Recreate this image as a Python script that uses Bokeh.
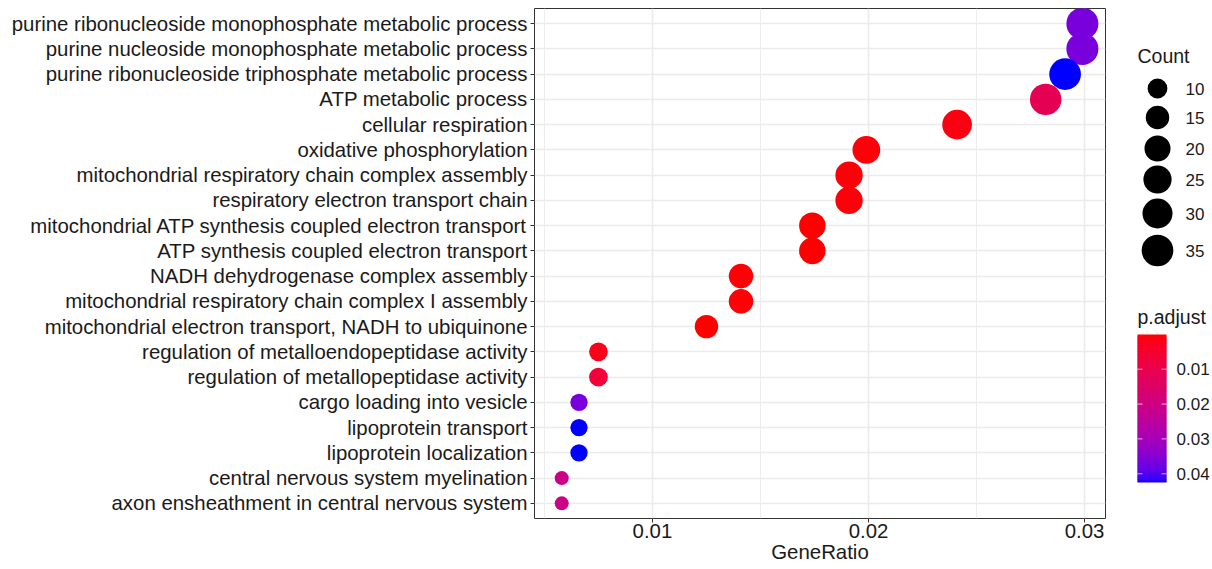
import numpy as np
from bokeh.plotting import figure
from bokeh.models import Range1d, FactorRange, ColumnDataSource, LinearColorMapper, FixedTicker
from bokeh.layouts import row
from bokeh.transform import transform
from bokeh.embed import file_html
from bokeh.resources import INLINE
from bokeh.core.properties import value

# ---------------- data (top to bottom as shown) ----------------
terms = [
    "purine ribonucleoside monophosphate metabolic process",
    "purine nucleoside monophosphate metabolic process",
    "purine ribonucleoside triphosphate metabolic process",
    "ATP metabolic process",
    "cellular respiration",
    "oxidative phosphorylation",
    "mitochondrial respiratory chain complex assembly",
    "respiratory electron transport chain",
    "mitochondrial ATP synthesis coupled electron transport",
    "ATP synthesis coupled electron transport",
    "NADH dehydrogenase complex assembly",
    "mitochondrial respiratory chain complex I assembly",
    "mitochondrial electron transport, NADH to ubiquinone",
    "regulation of metalloendopeptidase activity",
    "regulation of metallopeptidase activity",
    "cargo loading into vesicle",
    "lipoprotein transport",
    "lipoprotein localization",
    "central nervous system myelination",
    "axon ensheathment in central nervous system",
]
gene_ratio = [0.0299, 0.0299, 0.0291, 0.0282, 0.0241, 0.0199, 0.0191, 0.0191, 0.0174, 0.0174,
              0.0141, 0.0141, 0.0125, 0.0075, 0.0075, 0.0066, 0.0066, 0.0066, 0.0058, 0.0058]
counts = [36, 36, 35, 34, 29, 24, 23, 23, 21, 21, 17, 17, 15, 9, 9, 8, 8, 8, 7, 7]
p_adjust = [0.0365, 0.0365, 0.0425, 0.0115, 0.0015, 0.0008, 0.0006, 0.0008, 0.00005, 0.0001,
            0.0004, 0.0004, 0.0002, 0.002, 0.0065, 0.0365, 0.0425, 0.0425, 0.0205, 0.0205]

count_legend = [10, 15, 20, 25, 30, 35]
padj_ticks = [0.01, 0.02, 0.03, 0.04]
x_ticks = [0.01, 0.02, 0.03]
x_minor = [0.005, 0.015, 0.025]

FONT = "Liberation Sans"
TXT = "#1a1a1a"
B_TOP, B_BOT = 8, 51  # borders shared by both panels (row aligns them)

# ---------------- colour scale: red -> blue interpolated in Lab ----------------
def _lin(c):
    c = c / 255.0
    return np.where(c <= 0.04045, c / 12.92, ((c + 0.055) / 1.055) ** 2.4)

def _delin(c):
    c = np.where(c <= 0.0031308, 12.92 * c, 1.055 * np.power(np.clip(c, 0, None), 1 / 2.4) - 0.055)
    return np.clip(np.round(c * 255), 0, 255).astype(int)

M = np.array([[0.4124564, 0.3575761, 0.1804375],
              [0.2126729, 0.7151522, 0.0721750],
              [0.0193339, 0.1191920, 0.9503041]])
Minv = np.linalg.inv(M)
WHITE = np.array([0.95047, 1.0, 1.08883])

def rgb_to_lab(rgb):
    xyz = M @ _lin(np.array(rgb, dtype=float)) / WHITE
    f = np.where(xyz > 216 / 24389, np.cbrt(xyz), (24389 / 27 * xyz + 16) / 116)
    return np.array([116 * f[1] - 16, 500 * (f[0] - f[1]), 200 * (f[1] - f[2])])

def lab_to_hex(lab):
    L, a, b = lab
    fy = (L + 16) / 116
    fx = fy + a / 500
    fz = fy - b / 200
    f = np.array([fx, fy, fz])
    xyz = np.where(f ** 3 > 216 / 24389, f ** 3, (116 * f - 16) / (24389 / 27)) * WHITE
    r, g, bb = _delin(Minv @ xyz)
    return "#%02x%02x%02x" % (r, g, bb)

LAB_LOW = rgb_to_lab([255, 0, 0])
LAB_HIGH = rgb_to_lab([0, 0, 255])

def grad(t):
    return lab_to_hex(LAB_LOW + (LAB_HIGH - LAB_LOW) * t)

palette = [grad(t) for t in np.linspace(0, 1, 256)]
pmin, pmax = min(p_adjust), max(p_adjust)
mapper = LinearColorMapper(palette=palette, low=pmin, high=pmax)

# ---------------- size scale ----------------
cmin, cmax = min(counts), max(counts)
def dot_size(c):
    return 14 + 18 * np.sqrt(max(c - cmin, 0) / (cmax - cmin))

# ---------------- main panel ----------------
src = ColumnDataSource(dict(
    term=terms, ratio=gene_ratio, count=counts, padj=p_adjust,
    size=[dot_size(c) for c in counts],
))

yr = FactorRange(factors=list(reversed(terms)), range_padding=0.1, range_padding_units="absolute")
p = figure(width=1110, height=569, x_range=Range1d(0.00454, 0.03097), y_range=yr,
           output_backend="svg", toolbar_location=None,
           min_border_left=534, min_border_right=5, min_border_top=B_TOP, min_border_bottom=B_BOT)

p.scatter("ratio", "term", size="size", source=src,
          fill_color=transform("padj", mapper), line_color=None)

p.xaxis.ticker = FixedTicker(ticks=x_ticks, minor_ticks=x_minor)
p.xaxis.axis_label = "GeneRatio"
for ax in (p.xaxis[0], p.yaxis[0]):
    ax.axis_line_color = None
    ax.major_tick_line_color = "#333333"
    ax.major_tick_in = 0
    ax.major_tick_out = 4
    ax.minor_tick_line_color = None
    ax.major_label_text_font = FONT
    ax.major_label_text_font_size = "20.4px"
    ax.major_label_text_color = TXT
    ax.axis_label_text_font = FONT
    ax.axis_label_text_font_size = "20.4px"
    ax.axis_label_text_font_style = "normal"
    ax.axis_label_text_color = TXT
p.yaxis.major_label_standoff = 3
p.xaxis.major_label_standoff = 1
p.xaxis.axis_label_standoff = 0

p.xgrid.grid_line_color = "#ebebeb"
p.xgrid.grid_line_width = 1.6
p.xgrid.minor_grid_line_color = "#ebebeb"
p.xgrid.minor_grid_line_width = 0.9
p.ygrid.grid_line_color = "#ebebeb"
p.ygrid.grid_line_width = 1.6
p.outline_line_color = "#333333"
p.outline_line_width = 1
p.background_fill_color = "white"

# ---------------- legends (separate panel, data units = page pixels) ----------------
lg = figure(width=102, height=569, x_range=Range1d(1110, 1212), y_range=Range1d(569 - B_BOT, B_TOP),
            output_backend="svg", toolbar_location=None,
            min_border=0, min_border_left=0, min_border_right=0,
            min_border_top=B_TOP, min_border_bottom=B_BOT)
lg.axis.visible = False
lg.grid.visible = False
lg.outline_line_color = None

# size legend
lg.text(x=[1137], y=[55], text=["Count"], text_font=value(FONT), text_font_size="19.5px",
        text_baseline="middle", text_align="left", text_color=TXT)
ly = [88, 117, 148, 179, 213, 250]
lg.scatter(x=[1157] * len(count_legend), y=ly, size=[dot_size(c) for c in count_legend],
           fill_color="black", line_color=None)
lg.text(x=[1185] * len(count_legend), y=ly, text=[str(c) for c in count_legend],
        text_font=value(FONT), text_font_size="17px", text_baseline="middle",
        text_align="left", text_color=TXT)

# colour bar legend
lg.text(x=[1137], y=[316], text=["p.adjust"], text_font=value(FONT), text_font_size="19.5px",
        text_baseline="middle", text_align="left", text_color=TXT)
bar_top, bar_bot, bar_l, bar_r = 334.0, 482.0, 1137.0, 1166.0
nseg = 74
edges = np.linspace(bar_top, bar_bot, nseg + 1)
bottoms = np.minimum(edges[1:] + 1.5, bar_bot)
lg.quad(left=bar_l, right=bar_r, top=edges[:-1], bottom=bottoms,
        fill_color=[grad(t) for t in (np.arange(nseg) + 0.5) / nseg], fill_alpha=1.0, line_color=None)
def val_to_y(v):
    return bar_top + (v - pmin) / (pmax - pmin) * (bar_bot - bar_top)
ty = [val_to_y(v) for v in padj_ticks]
lg.segment(x0=[bar_l] * 4, x1=[bar_l + 5] * 4, y0=ty, y1=ty, line_color="white", line_width=1, line_alpha=0.7)
lg.segment(x0=[bar_r - 5] * 4, x1=[bar_r] * 4, y0=ty, y1=ty, line_color="white", line_width=1, line_alpha=0.7)
lg.text(x=[1176] * 4, y=ty, text=["%.2f" % v for v in padj_ticks], text_font=value(FONT),
        text_font_size="17px", text_baseline="middle", text_align="left", text_color=TXT)

layout = row(p, lg, spacing=0)
open("out.html", "w").write(file_html(layout, INLINE))
